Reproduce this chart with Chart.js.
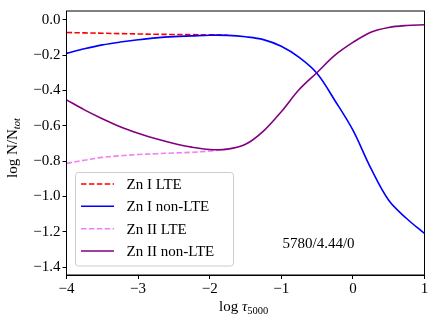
<!DOCTYPE html>
<html><head><meta charset="utf-8">
<script src="https://cdn.jsdelivr.net/npm/chart.js@4"></script>
<style>html,body{margin:0;padding:0;background:#fff}canvas{display:block}</style>
</head><body>
<canvas id="c" width="436" height="321"></canvas>
<script>
// ---- data ----
const logTau = [-4, -3.75, -3.5, -3.25, -3, -2.75, -2.5, -2.25, -2, -1.75, -1.5, -1.25, -1, -0.75, -0.5, -0.25, 0, 0.25, 0.5, 0.75, 1];
const znILte = [-0.072, -0.074, -0.076, -0.078, -0.080, -0.082, -0.083, -0.084, -0.085, -0.087, null, null, null, null, null, null, null, null, null, null, null];
const znINonLte = [-0.190, -0.164, -0.142, -0.126, -0.113, -0.102, -0.095, -0.091, -0.087, -0.088, -0.096, -0.112, -0.150, -0.213, -0.304, -0.458, -0.625, -0.840, -1.022, -1.125, -1.210];
const znIILte = [-0.813, -0.795, -0.779, -0.770, -0.763, -0.758, -0.754, -0.750, -0.743, -0.732, null, null, null, null, null, null, null, null, null, null, null];
const znIINonLte = [-0.453, -0.510, -0.560, -0.605, -0.642, -0.674, -0.700, -0.721, -0.734, -0.732, -0.705, -0.630, -0.520, -0.395, -0.298, -0.200, -0.128, -0.070, -0.043, -0.032, -0.028];
const seriesLabels = ['Zn I LTE', 'Zn I non-LTE', 'Zn II LTE', 'Zn II non-LTE'];
const xTicks = [-4, -3, -2, -1, 0, 1];
const yTicks = [-1.4, -1.2, -1.0, -0.8, -0.6, -0.4, -0.2, 0.0];
const modelLabel = '5780/4.44/0';

// ---- styles ----
const FONT = "'Liberation Serif', 'Times New Roman', serif";
const FS = 15;
const styles = [
  {color: '#ff0000', dash: [5.5, 2.4]},
  {color: '#0000ff', dash: []},
  {color: '#ee82ee', dash: [5.5, 2.4]},
  {color: '#800080', dash: []}
];
const drawOrder = [4, 3, 2, 1];
const seriesValues = [znILte, znINonLte, znIILte, znIINonLte];

function fmt(v, d) {
  const s = Math.abs(v).toFixed(d);
  return (v < -1e-9 ? '\u2212' : '') + s;
}
function pts(ys) { return logTau.map((x, i) => ({x: x, y: ys[i]})); }

function drawRuns(ctx, runs, x, y) {
  for (const r of runs) {
    ctx.font = r.font;
    ctx.fillText(r.t, x, y + (r.dy || 0));
    x += ctx.measureText(r.t).width;
  }
}

const overlay = {
  id: 'overlay',
  afterDatasetsDraw(chart) {
    const ctx = chart.ctx, a = chart.chartArea;
    ctx.save();
    ctx.strokeStyle = '#000';
    ctx.lineWidth = 1;
    ctx.strokeRect(a.left, a.top, a.right - a.left, a.bottom - a.top);
    ctx.restore();
  },
  afterDraw(chart) {
    const ctx = chart.ctx;
    ctx.save();
    // legend
    const bx = 75.5, by = 172.5, bw = 158, bh = 93.5;
    ctx.beginPath();
    ctx.roundRect(bx, by, bw, bh, 3);
    ctx.fillStyle = 'rgba(255,255,255,0.8)';
    ctx.fill();
    ctx.strokeStyle = '#cccccc';
    ctx.lineWidth = 1;
    ctx.stroke();
    const rowY = [184, 206.3, 228.7, 251];
    ctx.textBaseline = 'middle';
    ctx.textAlign = 'left';
    seriesLabels.forEach((lab, i) => {
      ctx.beginPath();
      ctx.setLineDash(styles[i].dash);
      ctx.strokeStyle = styles[i].color;
      ctx.lineWidth = 1.6;
      ctx.moveTo(81, rowY[i]);
      ctx.lineTo(114, rowY[i]);
      ctx.stroke();
      ctx.setLineDash([]);
      ctx.fillStyle = '#000';
      ctx.font = FS + 'px ' + FONT;
      ctx.fillText(lab, 126.5, rowY[i] + 1);
    });
    // annotation
    ctx.textBaseline = 'alphabetic';
    ctx.fillStyle = '#000';
    ctx.font = FS + 'px ' + FONT;
    ctx.fillText(modelLabel, 282.5, 248);
    // x title
    drawRuns(ctx, [
      {t: 'log ', font: FS + 'px ' + FONT},
      {t: '\u03c4', font: 'italic ' + FS + 'px ' + FONT},
      {t: '5000', font: '10.5px ' + FONT, dy: 3}
    ], 219, 311);
    // y title
    ctx.translate(17, 178);
    ctx.rotate(-Math.PI / 2);
    drawRuns(ctx, [
      {t: 'log N/N', font: FS + 'px ' + FONT},
      {t: 'tot', font: 'italic 10.5px ' + FONT, dy: 3}
    ], 0, 0);
    ctx.restore();
  }
};

new Chart(document.getElementById('c'), {
  type: 'line',
  data: {
    datasets: seriesValues.map((v, i) => ({
      label: seriesLabels[i],
      data: pts(v),
      borderColor: styles[i].color,
      backgroundColor: styles[i].color,
      borderDash: styles[i].dash,
      borderWidth: 1.6,
      pointRadius: 0,
      fill: false,
      tension: 0.35,
      spanGaps: false,
      order: drawOrder[i]
    }))
  },
  options: {
    responsive: false,
    devicePixelRatio: 1,
    animation: false,
    events: [],
    layout: {padding: {top: 7, right: 11.5, left: 0, bottom: 0}},
    plugins: {legend: {display: false}, tooltip: {enabled: false}},
    scales: {
      x: {
        type: 'linear', min: -4, max: 1,
        afterFit(s) { s.height = 46; },
        afterBuildTicks(s) { s.ticks = xTicks.map(v => ({value: v})); },
        grid: {drawOnChartArea: false, drawTicks: true, tickLength: 4, tickColor: '#000', tickWidth: 1},
        border: {display: true, color: '#000', width: 1},
        ticks: {color: '#000', padding: 1, font: {family: FONT, size: FS}, maxRotation: 0, autoSkip: false,
          callback: v => fmt(v, 0)}
      },
      y: {
        type: 'linear', min: -1.445, max: 0.05,
        afterFit(s) { s.width = 66.5; },
        afterBuildTicks(s) { s.ticks = yTicks.map(v => ({value: v})); },
        grid: {drawOnChartArea: false, drawTicks: true, tickLength: 4, tickColor: '#000', tickWidth: 1},
        border: {display: true, color: '#000', width: 1},
        ticks: {color: '#000', padding: 2, font: {family: FONT, size: FS}, autoSkip: false,
          callback: v => fmt(v, 1)}
      }
    }
  },
  plugins: [overlay]
});
</script>
</body></html>
